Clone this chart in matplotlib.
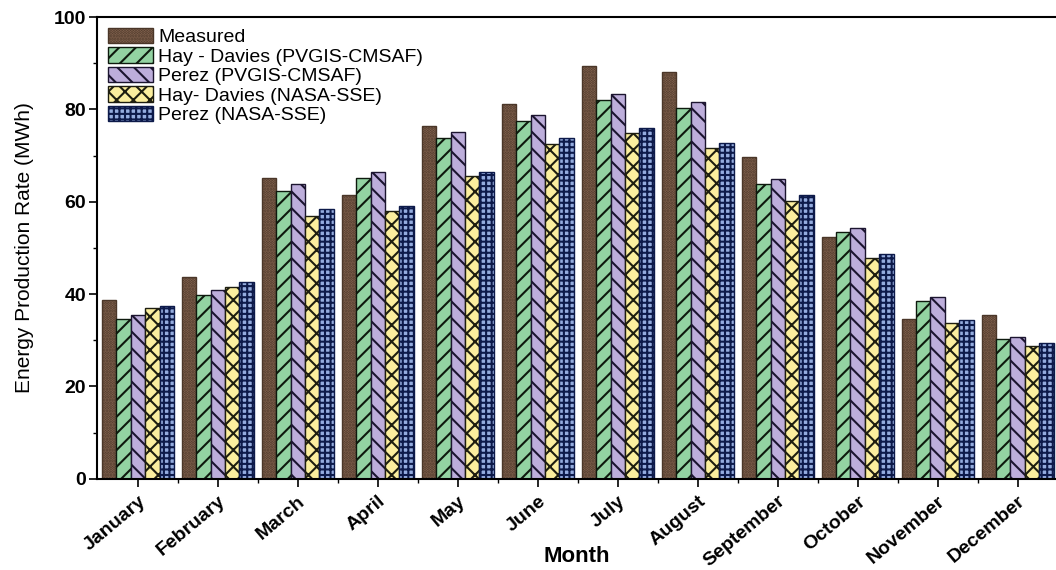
import numpy as np
import matplotlib.pyplot as plt
from matplotlib.ticker import MultipleLocator

plt.rcParams['font.family'] = ['Liberation Sans', 'DejaVu Sans']
plt.rcParams['hatch.linewidth'] = 1.5

months = ["January", "February", "March", "April", "May", "June",
          "July", "August", "September", "October", "November", "December"]

measured = [38.7, 43.7, 65.2, 61.4, 76.4, 81.1, 89.4, 88.1, 69.8, 52.3, 34.6, 35.5]
hay_pvgis = [34.6, 39.8, 62.3, 65.1, 73.9, 77.5, 82.1, 80.3, 63.9, 53.5, 38.5, 30.2]
perez_pvgis = [35.4, 40.8, 63.8, 66.4, 75.1, 78.7, 83.4, 81.7, 64.9, 54.4, 39.3, 30.7]
hay_nasa = [36.9, 41.6, 57.0, 58.0, 65.6, 72.6, 74.8, 71.6, 60.2, 47.8, 33.8, 28.7]
perez_nasa = [37.5, 42.6, 58.4, 59.1, 66.4, 73.8, 75.9, 72.8, 61.4, 48.7, 34.5, 29.4]

labels = ["Measured", "Hay - Davies (PVGIS-CMSAF)", "Perez (PVGIS-CMSAF)",
          "Hay- Davies (NASA-SSE)", "Perez (NASA-SSE)"]
series = [measured, hay_pvgis, perez_pvgis, hay_nasa, perez_nasa]
faces = ["#8c6a55", "#93d3a2", "#bdaedb", "#fbee9e", "#94acdf"]
edges = ["#4a3628", "#0e1a0e", "#1c1530", "#1e1e10", "#0d1a4a"]
hatches = ["......", "//", "\\\\", "xx", "+++"]

fig = plt.figure(figsize=(10.56, 5.70), dpi=100)
ax = fig.add_axes([0.092, 0.16, 0.908, 0.81])

x = np.arange(len(months))
w = 0.18
for i, (vals, lab) in enumerate(zip(series, labels)):
    ax.bar(x + (i - 2) * w, vals, w, color=faces[i], edgecolor=edges[i],
           hatch=hatches[i], linewidth=1.0, label=lab)

ax.set_xlim(-0.51, 11.48)
ax.set_ylim(0, 100)
ax.set_xticks(x)
ax.set_xticklabels(months, rotation=40, ha='right', va='top',
                   rotation_mode='anchor', fontsize=14, fontweight='bold')
ax.set_xticks(x[:-1] + 0.5, minor=True)
ax.yaxis.set_major_locator(MultipleLocator(20))
ax.yaxis.set_minor_locator(MultipleLocator(10))
for lab in ax.get_yticklabels():
    lab.set_fontweight('bold')
    lab.set_fontsize(14)
ax.tick_params(axis='both', which='major', direction='out', length=6, width=1.2)
ax.tick_params(axis='both', which='minor', direction='out', length=3, width=1.0)
ax.tick_params(axis='x', which='major', pad=4)
ax.tick_params(axis='y', which='major', pad=2)

ax.spines['right'].set_visible(False)
for s in ['left', 'top', 'bottom']:
    ax.spines[s].set_linewidth(1.5)

ax.set_xlabel("Month", fontsize=16, fontweight='bold')
ax.xaxis.set_label_coords(0.5, -0.145)
ax.set_ylabel("Energy Production Rate (MWh)", fontsize=15, labelpad=14)

ax.legend(loc='upper left', frameon=False, fontsize=14, handlelength=2.3,
          handleheight=0.85, labelspacing=0.05, handletextpad=0.3,
          borderaxespad=0.15, borderpad=0.4)

fig.savefig("out.png", dpi=100)
